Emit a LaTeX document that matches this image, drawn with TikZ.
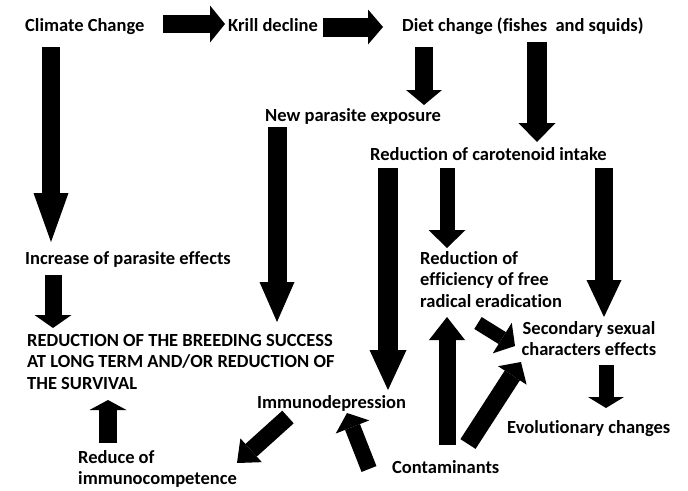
\documentclass[tikz,border=0pt]{standalone}
\usepackage{fontspec}
\setmainfont{Carlito}[Ligatures={NoCommon}]
\usetikzlibrary{arrows.meta}

\tikzset{
  txt/.style={font=\fontsize{18.5}{21.5}\selectfont\bfseries, inner sep=0pt, align=left},
  blk/.style n args={3}{line width=#1, -{Triangle[length=#3, width=#2, line width=0pt]}},
}

\begin{document}
\begin{tikzpicture}[x=1pt,y=-1pt]
  \fill[white] (0,0) rectangle (688,490);
  \useasboundingbox (0,0) rectangle (688,490);
  % labels
  \node[txt, anchor=base west] (climate) at (25,31) {Climate Change};
  \node[txt, anchor=base west] (krill) at (228,31) {Krill decline};
  \node[txt, anchor=base west] (diet) at (402,31) {Diet change (fishes\ \ and squids)};
  \node[txt, anchor=base west] (newpar) at (265,121) {New parasite exposure};
  \node[txt, anchor=base west] (carot) at (370,160) {Reduction of carotenoid intake};
  \node[txt, anchor=base west] (increase) at (25,264) {Increase of parasite effects};
  \node[txt, anchor=north west] (breeding) at (27,334) {REDUCTION OF THE BREEDING SUCCESS\\AT LONG TERM AND/OR REDUCTION OF\\THE SURVIVAL};
  \node[txt, anchor=north west] (radical) at (420,251) {Reduction of\\efficiency of free\\radical eradication};
  \node[txt, anchor=north, align=center] (secondary) at (589,321) {Secondary sexual\\characters effects};
  \node[txt, anchor=base west] (immuno) at (257,408) {Immunodepression};
  \node[txt, anchor=base west] (evol) at (507,433) {Evolutionary changes};
  \node[txt, anchor=base west] (contam) at (392,473) {Contaminants};
  \node[txt, anchor=north west] (reduce) at (78,450) {Reduce of\\immunocompetence};

  % arrow ends
  \coordinate (cc-e) at (163,24);   \coordinate (kr-w) at (225,24);
  \coordinate (kr-e) at (323,27);   \coordinate (di-w) at (383,27);
  \coordinate (cc-s) at (51,47);    \coordinate (in-n) at (51,242);
  \coordinate (in-s) at (53,275);   \coordinate (br-n1) at (53,328);
  \coordinate (di-s1) at (424,47);  \coordinate (np-n) at (424,105);
  \coordinate (di-s2) at (537,42);  \coordinate (ca-n) at (537,142);
  \coordinate (np-s) at (277,127);  \coordinate (br-n2) at (277,322);
  \coordinate (ca-s1) at (388,168); \coordinate (im-n) at (388,390);
  \coordinate (ca-s2) at (447,168); \coordinate (ra-n) at (447,248);
  \coordinate (ca-s3) at (604,168); \coordinate (se-n) at (604,317);
  \coordinate (se-s) at (606,365);  \coordinate (ev-n) at (606,408);
  \coordinate (co-n1) at (447,445); \coordinate (ra-s) at (447,317);
  \coordinate (ra-se) at (478,323); \coordinate (se-w1) at (515,346);
  \coordinate (co-n2) at (468,444); \coordinate (se-w2) at (521,362);
  \coordinate (co-w) at (369,469);  \coordinate (im-s) at (347,413);
  \coordinate (im-sw) at (288,417); \coordinate (re-ne) at (237,463);
  \coordinate (re-n) at (108,443);  \coordinate (br-s) at (108,400);

  % block arrows
  \draw[blk={18pt}{37pt}{15pt}] (cc-e) -- (kr-w);
  \draw[blk={19pt}{35pt}{15pt}] (kr-e) -- (di-w);
  \draw[blk={18pt}{35pt}{49pt}] (cc-s) -- (in-n);
  \draw[blk={17pt}{37pt}{13pt}] (in-s) -- (br-n1);
  \draw[blk={18pt}{36pt}{15pt}] (di-s1) -- (np-n);
  \draw[blk={20pt}{37pt}{19pt}] (di-s2) -- (ca-n);
  \draw[blk={19pt}{35pt}{40pt}] (np-s) -- (br-n2);
  \draw[blk={20pt}{37pt}{40pt}] (ca-s1) -- (im-n);
  \draw[blk={15pt}{37pt}{18pt}] (ca-s2) -- (ra-n);
  \draw[blk={18pt}{35pt}{37pt}] (ca-s3) -- (se-n);
  \draw[blk={15pt}{36pt}{11pt}] (se-s) -- (ev-n);
  \draw[blk={17pt}{36pt}{23pt}] (co-n1) -- (ra-s);
  \draw[blk={14pt}{36pt}{15pt}] (ra-se) -- (se-w1);
  \draw[blk={18pt}{34pt}{16pt}] (co-n2) -- (se-w2);
  \draw[blk={16pt}{36pt}{15pt}] (co-w) -- (im-s);
  \draw[blk={17pt}{32pt}{19pt}] (im-sw) -- (re-ne);
  \draw[blk={18pt}{37pt}{10pt}] (re-n) -- (br-s);
\end{tikzpicture}
\end{document}
